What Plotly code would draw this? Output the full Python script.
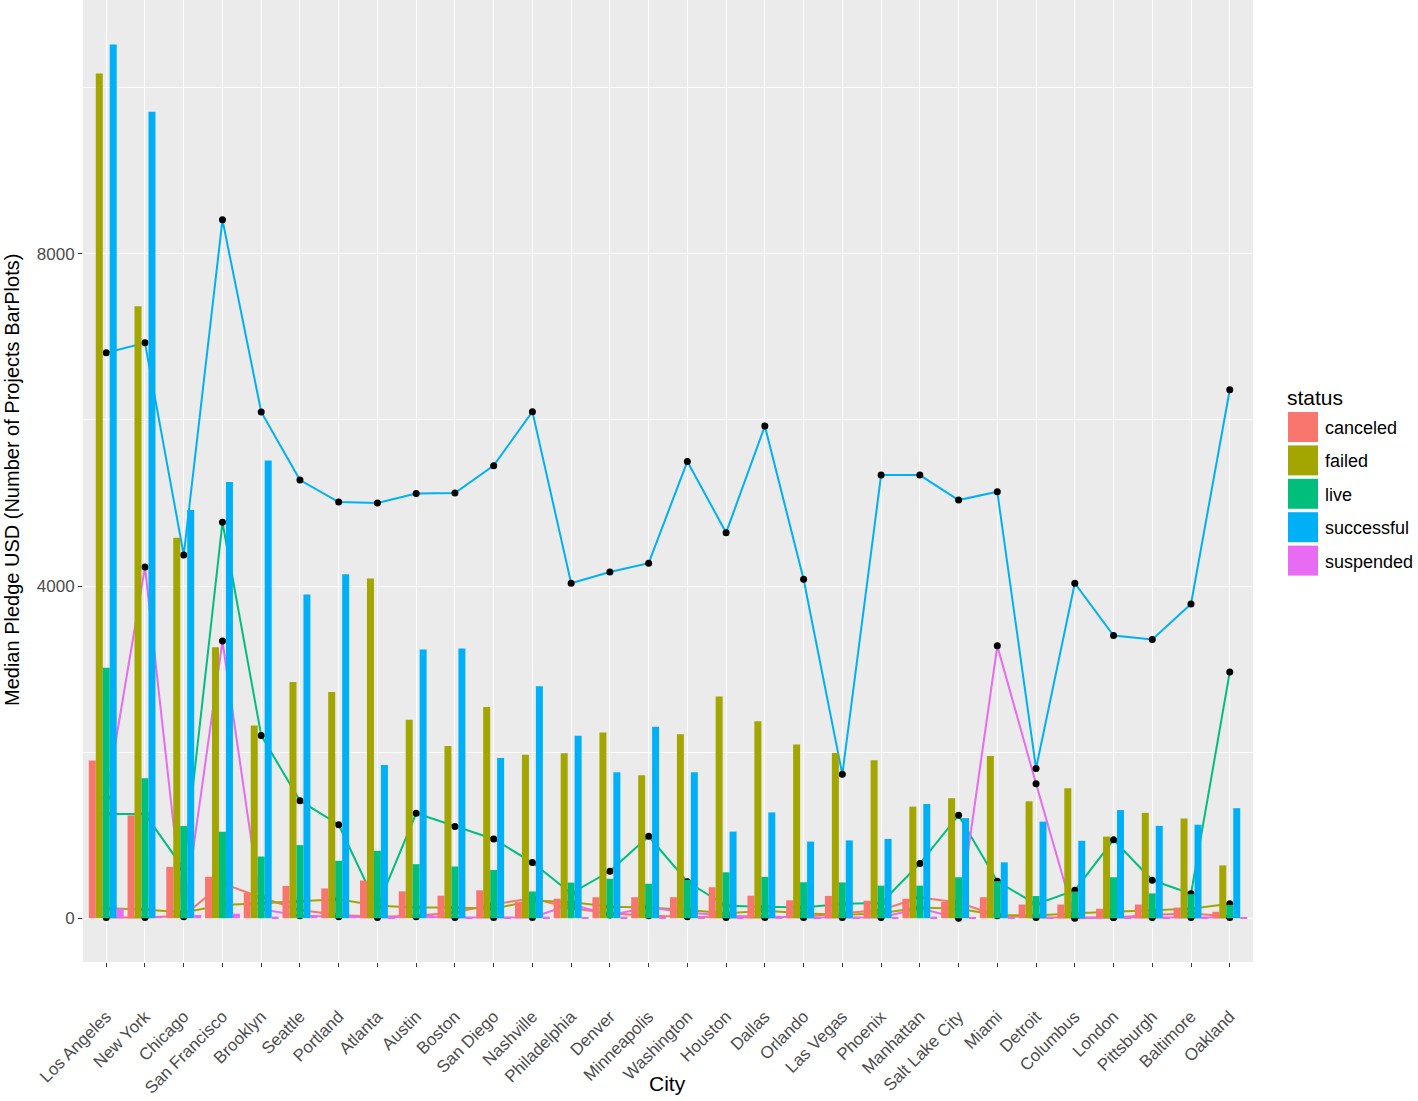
import plotly.graph_objects as go

cities = ["Los Angeles", "New York", "Chicago", "San Francisco", "Brooklyn", "Seattle",
          "Portland", "Atlanta", "Austin", "Boston", "San Diego", "Nashville",
          "Philadelphia", "Denver", "Minneapolis", "Washington", "Houston", "Dallas",
          "Orlando", "Las Vegas", "Phoenix", "Manhattan", "Salt Lake City", "Miami",
          "Detroit", "Columbus", "London", "Pittsburgh", "Baltimore", "Oakland"]

statuses = ["canceled", "failed", "live", "successful", "suspended"]
colors = ["#F8766D", "#A3A500", "#00BF7D", "#00B0F6", "#E76BF3"]

# Number of projects (bars)
count_canceled = [1900, 1240, 620, 500, 305, 390, 360, 455, 325, 272, 337, 195, 236, 254, 254,
                  254, 374, 272, 217, 270, 212, 236, 199, 254, 166, 166, 115, 166, 129, 79]
count_failed = [10170, 7370, 4583, 3263, 2322, 2845, 2724, 4092, 2390, 2076, 2545, 1968, 1986, 2236, 1723,
                2217, 2670, 2374, 2092, 1990, 1903, 1344, 1446, 1954, 1409, 1566, 984, 1270, 1201, 637]
count_live = [3018, 1686, 1111, 1042, 744, 881, 692, 813, 652, 624, 582, 323, 430, 476, 416,
              462, 554, 499, 434, 432, 393, 393, 494, 448, 268, 323, 494, 300, 291, 162]
count_successful = [10520, 9711, 4917, 5253, 5513, 3899, 4141, 1847, 3235, 3248, 1931, 2794, 2199, 1760, 2305,
                    1760, 1044, 1275, 924, 938, 956, 1376, 1206, 674, 1164, 933, 1303, 1113, 1127, 1326]
count_suspended = [120, 25, 40, 55, 20, 35, 30, 15, 40, 15, 10, 20, 15, 20, 15,
                   15, 20, 15, 10, 10, 10, 20, 10, 15, 10, 10, 15, 10, 10, 5]

# Median pledge USD (lines)
median_canceled = [10, 10, 30, 420, 250, 100, 40, 20, 30, 70, 170, 240, 120, 60, 30,
                   20, 10, 10, 20, 60, 100, 250, 190, 30, 10, 10, 10, 40, 60, 20]
median_failed = [120, 105, 70, 160, 180, 205, 230, 150, 130, 130, 115, 215, 195, 140, 130,
                 100, 60, 90, 60, 40, 60, 130, 115, 40, 35, 60, 80, 95, 115, 175]
median_live = [1255, 1255, 596, 4768, 2201, 1416, 1127, 140, 1264, 1105, 955, 671, 300, 566, 988,
               440, 150, 140, 130, 175, 185, 659, 1241, 445, 170, 337, 945, 458, 297, 2964]
median_successful = [6808, 6928, 4374, 8410, 6097, 5277, 5012, 5000, 5115, 5121, 5450, 6100, 4034, 4170, 4275,
                     5500, 4643, 5927, 4082, 1733, 5336, 5336, 5035, 5135, 1804, 4034, 3405, 3358, 3785, 6363]
median_suspended = [1450, 4229, 20, 3338, 110, 30, 20, 10, 20, 10, 10, 10, 170, 40, 130,
                    70, 30, 20, 10, 10, 10, 120, 0, 3280, 1620, 0, 10, 10, 10, 10]

y_tick_values = [0, 4000, 8000]
y_tick_labels = ["0", "4000", "8000"]
y_minor_values = [2000, 6000, 10000]

counts = [count_canceled, count_failed, count_live, count_successful, count_suspended]
medians = [median_canceled, median_failed, median_live, median_successful, median_suspended]

FONT = "Liberation Sans, Arial, sans-serif"
YMIN, YMAX = -526, 11056
XR = [-0.6, len(cities) - 0.4]

fig = go.Figure()

# lines (bottom layer)
for s, c, m in zip(statuses, colors, medians):
    fig.add_trace(go.Scatter(x=cities, y=m, mode="lines", line=dict(color=c, width=2),
                             name=s, showlegend=False, xaxis="x", yaxis="y"))
# points
for s, m in zip(statuses, medians):
    fig.add_trace(go.Scatter(x=cities, y=m, mode="markers",
                             marker=dict(color="black", size=7),
                             name=s, showlegend=False, xaxis="x", yaxis="y"))
# bars on overlaying axes (drawn on top)
for s, c, n in zip(statuses, colors, counts):
    fig.add_trace(go.Bar(x=cities, y=n, marker=dict(color=c, line=dict(width=0)),
                         name=s, showlegend=False, xaxis="x2", yaxis="y2"))

L, R, T, B = 83, 165, 0, 139
W, H = 1418, 1101
PW, PH = W - L - R, H - T - B


def px(x):
    return (x - L) / PW


def py(y):
    return (H - B - y) / PH


shapes = []
annotations = []
# legend
annotations.append(dict(x=px(1285), y=py(397), xref="paper", yref="paper", text="status",
                        showarrow=False, xanchor="left", yanchor="middle",
                        font=dict(family=FONT, size=21, color="black")))
for i, (s, c) in enumerate(zip(statuses, colors)):
    top = 412 + i * 33.4
    shapes.append(dict(type="rect", xref="paper", yref="paper",
                       x0=px(1288), x1=px(1318), y0=py(top + 30), y1=py(top),
                       fillcolor=c, line=dict(width=0)))
    annotations.append(dict(x=px(1323), y=py(top + 16), xref="paper", yref="paper", text=s,
                            showarrow=False, xanchor="left", yanchor="middle",
                            font=dict(family=FONT, size=18, color="black")))
# axis titles
annotations.append(dict(x=px(667), y=py(1083), xref="paper", yref="paper", text="City",
                        showarrow=False, xanchor="center", yanchor="middle",
                        font=dict(family=FONT, size=21, color="black")))
annotations.append(dict(x=px(12), y=py(480), xref="paper", yref="paper",
                        text="Median Pledge USD (Number of Projects BarPlots)",
                        showarrow=False, xanchor="center", yanchor="middle", textangle=-90,
                        font=dict(family=FONT, size=20, color="black")))

fig.update_layout(
    width=W, height=H,
    margin=dict(l=L, r=R, t=T, b=B, pad=0),
    paper_bgcolor="white", plot_bgcolor="#EBEBEB",
    barmode="group", bargap=0.1, bargroupgap=0,
    showlegend=False,
    shapes=shapes, annotations=annotations,
    xaxis=dict(type="category", categoryorder="array", categoryarray=cities, range=XR,
               showgrid=True, gridcolor="white", gridwidth=1.4, zeroline=False, showline=False,
               ticks="outside", ticklen=4, tickwidth=1.1, tickcolor="#333333",
               tickangle=-45, ticklabelstandoff=33,
               tickfont=dict(family=FONT, size=17, color="#4D4D4D"), automargin=False),
    yaxis=dict(range=[YMIN, YMAX], tickvals=y_tick_values, ticktext=y_tick_labels,
               showgrid=True, gridcolor="white", gridwidth=1.4, zeroline=False, showline=False,
               ticks="outside", ticklen=4, tickwidth=1.1, tickcolor="#333333",
               minor=dict(tickvals=y_minor_values, showgrid=True, gridcolor="white",
                          gridwidth=0.7, ticks=""),
               tickfont=dict(family=FONT, size=17, color="#4D4D4D"), automargin=False),
    xaxis2=dict(type="category", categoryorder="array", categoryarray=cities, range=XR,
                overlaying="x", visible=False, showgrid=False, automargin=False),
    yaxis2=dict(range=[YMIN, YMAX], overlaying="y", visible=False, showgrid=False,
                zeroline=False, automargin=False),
)

fig.write_html("out.html", config={"displayModeBar": False},
               post_script="document.body.style.margin='0px';document.body.style.overflow='hidden';")
